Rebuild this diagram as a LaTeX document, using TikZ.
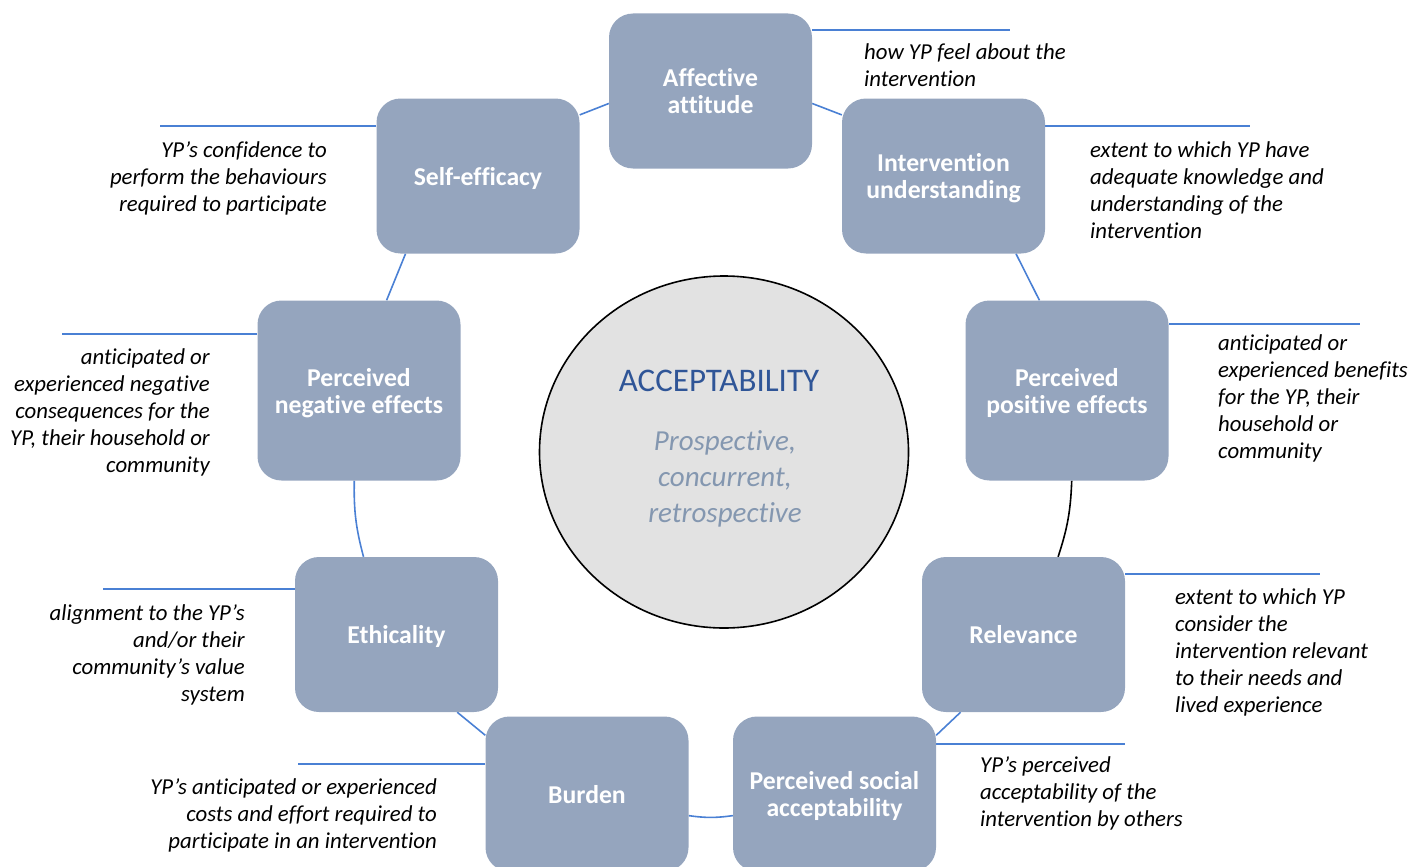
\documentclass[tikz,border=0pt]{standalone}
\usepackage{fontspec}
\setmainfont{Carlito}[Ligatures=NoCommon]
\usetikzlibrary{shapes.geometric,backgrounds}

\definecolor{boxfill}{HTML}{95A5BE}
\definecolor{linkblue}{HTML}{4A80D4}
\definecolor{acctext}{HTML}{2F5597}
\definecolor{subtext}{HTML}{8497B0}
\definecolor{circfill}{HTML}{E2E2E2}

\tikzset{
  box/.style={rectangle, rounded corners=24pt, fill=boxfill, text=white,
    font=\fontsize{25.7}{27}\selectfont\bfseries, align=center, text depth=0pt,
    minimum width=203pt, minimum height=155pt, inner sep=0pt},
  tallbox/.style={box, minimum height=180pt},
  desc/.style={font=\fontsize{22.8}{27}\selectfont\itshape, inner sep=0pt},
  link/.style={draw=linkblue, line width=1.6pt},
  leader/.style={draw=linkblue, line width=2pt},
}

\begin{document}
\begin{tikzpicture}[x=1pt, y=-1pt]
\useasboundingbox (0,0) rectangle (1424,867);

% Centre
\node[ellipse, draw=black, line width=1.6pt, fill=circfill,
  minimum width=369pt, minimum height=352pt] (core) at (724,452) {};
\node[font=\fontsize{33}{36}\selectfont, text=acctext] (acctitle) at (719,381) {ACCEPTABILITY};
\node[font=\fontsize{29}{36}\selectfont\itshape, text=subtext, align=center]
  (accsub) at (725,479) {Prospective,\\concurrent,\\retrospective};

% Boxes
\node[box] (aff) at (710.5,91) {Affective\\attitude};
\node[box] (underst) at (943.5,176) {Intervention\\understanding};
\node[box] (selfeff) at (478,176) {Self-efficacy};
\node[tallbox] (negeff) at (359,390.5) {Perceived\\negative effects};
\node[tallbox] (poseff) at (1067,390.5) {Perceived\\positive effects};
\node[box] (ethic) at (396.5,634.5) {Ethicality};
\node[box] (relev) at (1023.5,634.5) {Relevance};
\node[box] (burden) at (587,794) {Burden};
\node[box] (social) at (834.5,794) {Perceived social\\acceptability};

% Free ends of the leaders
\coordinate (affend) at (1010,30);
\coordinate (understend) at (1250,126);
\coordinate (selfeffend) at (160,126);
\coordinate (negeffend) at (62,334);
\coordinate (poseffend) at (1360,324);
\coordinate (ethicend) at (103,589);
\coordinate (relevend) at (1320,574);
\coordinate (socialend) at (1125,744);
\coordinate (burdenend) at (298,764);

% Descriptions
\node[desc, anchor=north west, align=left] (affdesc) at (864,43)
  {how YP feel about the\\intervention};
\node[desc, anchor=north west, align=left] (understdesc) at (1090,141)
  {extent to which YP have\\adequate knowledge and\\understanding of the\\intervention};
\node[desc, anchor=north east, align=right] (selfeffdesc) at (327,141)
  {YP’s confidence to\\perform the behaviours\\required to participate};
\node[desc, anchor=north east, align=right] (negeffdesc) at (210,348)
  {anticipated or\\experienced negative\\consequences for the\\YP, their household or\\community};
\node[desc, anchor=north west, align=left] (poseffdesc) at (1218,334)
  {anticipated or\\experienced benefits\\for the YP, their\\household or\\community};
\node[desc, anchor=north east, align=right] (ethicdesc) at (245,604)
  {alignment to the YP’s\\and/or their\\community’s value\\system};
\node[desc, anchor=north west, align=left] (relevdesc) at (1175,588)
  {extent to which YP\\consider the\\intervention relevant\\to their needs and\\lived experience};
\node[desc, anchor=north west, align=left] (socialdesc) at (980,756)
  {YP’s perceived\\acceptability of the\\intervention by others};
\node[desc, anchor=north east, align=right] (burdendesc) at (437,778)
  {YP’s anticipated or experienced\\costs and effort required to\\participate in an intervention};

\begin{pgfonlayer}{background}
  % ring between the boxes
  \draw[link] (selfeff.31) -- (aff.187);
  \draw[link] (aff.353) -- (underst.149);
  \draw[link] (underst.313) -- (poseff.107);
  \draw[link, draw=black] (poseff.273) to[bend left=8] (relev.66);
  \draw[link] (relev.231) -- (social.30);
  \draw[link] (social.192) to[bend left=8] (burden.348);
  \draw[link] (burden.150) -- (ethic.308);
  \draw[link] (ethic.113) to[bend left=8] (negeff.267);
  \draw[link] (negeff.73) -- (selfeff.227);
  % leaders
  \draw[leader] (aff.east |- affend) -- (affend);
  \draw[leader] (underst.east |- understend) -- (understend);
  \draw[leader] (selfeff.west |- selfeffend) -- (selfeffend);
  \draw[leader] (negeff.west |- negeffend) -- (negeffend);
  \draw[leader] (poseff.east |- poseffend) -- (poseffend);
  \draw[leader] (ethic.west |- ethicend) -- (ethicend);
  \draw[leader] (relev.east |- relevend) -- (relevend);
  \draw[leader] (social.east |- socialend) -- (socialend);
  \draw[leader] (burden.west |- burdenend) -- (burdenend);
\end{pgfonlayer}
\end{tikzpicture}
\end{document}
